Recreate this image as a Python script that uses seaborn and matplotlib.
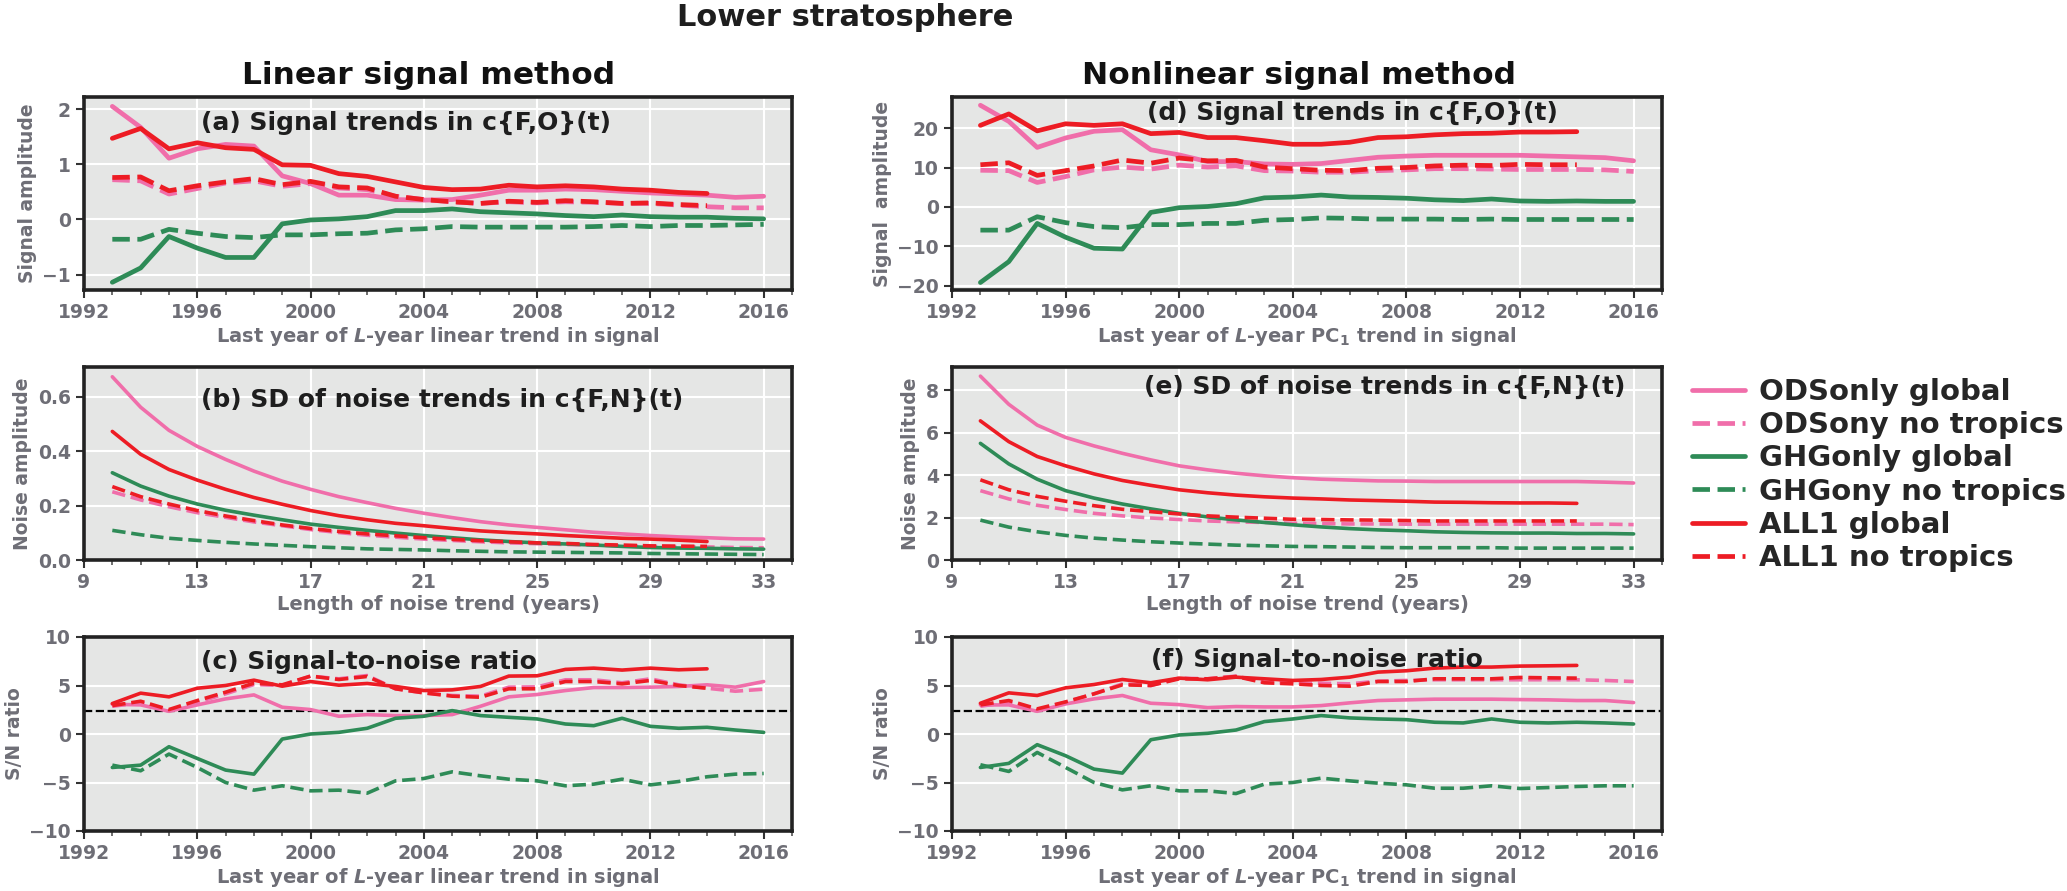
import matplotlib
matplotlib.use("Agg")
import matplotlib.pyplot as plt
import seaborn as sns
from matplotlib.ticker import MultipleLocator

# x values
years = list(range(1993, 2017))
years_all1 = list(range(1993, 2015))
lengths = list(range(10, 34))
lengths_all1 = list(range(10, 32))

series_labels = ["ODSonly global", "ODSony no tropics", "GHGonly global",
                 "GHGony no tropics", "ALL1 global", "ALL1 no tropics"]

# (a) linear signal trends
a_ods_glob = [2.05, 1.67, 1.11, 1.28, 1.36, 1.33, 0.79, 0.65, 0.44, 0.44, 0.36, 0.35,
              0.36, 0.44, 0.53, 0.53, 0.55, 0.54, 0.51, 0.48, 0.46, 0.44, 0.40, 0.42]
a_ods_notr = [0.72, 0.70, 0.46, 0.56, 0.66, 0.70, 0.60, 0.65, 0.57, 0.54, 0.42, 0.36,
              0.32, 0.29, 0.32, 0.30, 0.32, 0.31, 0.29, 0.29, 0.26, 0.23, 0.21, 0.21]
a_ghg_glob = [-1.14, -0.88, -0.31, -0.52, -0.69, -0.69, -0.08, -0.01, 0.01, 0.05, 0.16, 0.16,
              0.19, 0.14, 0.12, 0.10, 0.07, 0.05, 0.08, 0.05, 0.04, 0.04, 0.02, 0.01]
a_ghg_notr = [-0.36, -0.36, -0.18, -0.25, -0.31, -0.33, -0.28, -0.28, -0.26, -0.25, -0.19, -0.17,
              -0.13, -0.14, -0.14, -0.14, -0.14, -0.13, -0.11, -0.13, -0.11, -0.11, -0.10, -0.09]
a_all_glob = [1.47, 1.65, 1.28, 1.39, 1.30, 1.27, 0.99, 0.98, 0.83, 0.78, 0.68, 0.58,
              0.54, 0.55, 0.62, 0.59, 0.61, 0.59, 0.55, 0.53, 0.49, 0.47]
a_all_notr = [0.76, 0.77, 0.52, 0.61, 0.68, 0.74, 0.63, 0.69, 0.59, 0.57, 0.42, 0.36,
              0.32, 0.29, 0.33, 0.31, 0.34, 0.32, 0.29, 0.30, 0.27, 0.25]

# (b) SD of noise trends, linear
b_ods_glob = [0.674, 0.562, 0.477, 0.418, 0.370, 0.327, 0.290, 0.260, 0.233, 0.211, 0.190, 0.172,
              0.156, 0.141, 0.129, 0.120, 0.111, 0.102, 0.096, 0.090, 0.085, 0.082, 0.078, 0.077]
b_ods_notr = [0.251, 0.221, 0.196, 0.174, 0.157, 0.140, 0.126, 0.112, 0.101, 0.091, 0.084, 0.077,
              0.072, 0.067, 0.063, 0.060, 0.057, 0.055, 0.052, 0.050, 0.049, 0.048, 0.046, 0.045]
b_ghg_glob = [0.321, 0.272, 0.235, 0.206, 0.183, 0.165, 0.148, 0.132, 0.120, 0.109, 0.099, 0.090,
              0.082, 0.074, 0.068, 0.063, 0.059, 0.055, 0.050, 0.046, 0.044, 0.043, 0.041, 0.040]
b_ghg_notr = [0.109, 0.093, 0.080, 0.072, 0.065, 0.059, 0.054, 0.049, 0.045, 0.041, 0.039, 0.037,
              0.034, 0.032, 0.030, 0.029, 0.028, 0.027, 0.026, 0.024, 0.023, 0.022, 0.021, 0.020]
b_all_glob = [0.473, 0.389, 0.333, 0.294, 0.260, 0.230, 0.205, 0.182, 0.163, 0.148, 0.135, 0.126,
              0.116, 0.107, 0.101, 0.096, 0.090, 0.085, 0.080, 0.077, 0.073, 0.068]
b_all_notr = [0.270, 0.233, 0.206, 0.182, 0.162, 0.145, 0.129, 0.116, 0.105, 0.096, 0.089, 0.082,
              0.076, 0.071, 0.067, 0.063, 0.061, 0.057, 0.055, 0.052, 0.051, 0.050]

# (c) S/N, linear
c_ods_glob = [3.07, 3.00, 2.34, 3.00, 3.62, 4.03, 2.76, 2.52, 1.83, 2.00, 1.90, 1.90,
              2.00, 2.86, 3.83, 4.07, 4.48, 4.79, 4.79, 4.83, 4.90, 5.07, 4.83, 5.41]
c_ods_notr = [2.86, 3.21, 2.41, 3.28, 4.14, 5.10, 5.00, 5.97, 5.69, 6.03, 4.66, 4.24,
              3.97, 3.90, 4.83, 4.86, 5.59, 5.59, 5.28, 5.69, 5.07, 4.72, 4.41, 4.62]
c_ghg_glob = [-3.45, -3.21, -1.31, -2.52, -3.72, -4.14, -0.52, 0.00, 0.17, 0.59, 1.62, 1.83,
              2.41, 1.90, 1.72, 1.55, 1.03, 0.86, 1.62, 0.79, 0.59, 0.69, 0.41, 0.17]
c_ghg_notr = [-3.21, -3.79, -2.07, -3.45, -5.00, -5.79, -5.34, -5.86, -5.79, -6.10, -4.83, -4.59,
              -3.90, -4.31, -4.66, -4.83, -5.34, -5.17, -4.66, -5.24, -4.90, -4.41, -4.14, -4.07]
c_all_glob = [3.14, 4.21, 3.83, 4.72, 5.00, 5.55, 4.93, 5.41, 5.03, 5.21, 4.90, 4.48,
              4.55, 4.90, 5.97, 6.00, 6.66, 6.79, 6.59, 6.79, 6.62, 6.72]
c_all_notr = [2.93, 3.38, 2.52, 3.45, 4.31, 5.24, 5.07, 5.97, 5.62, 5.93, 4.66, 4.24,
              3.90, 3.79, 4.66, 4.66, 5.41, 5.41, 5.17, 5.52, 5.00, 4.72]

# (d) nonlinear signal trends
d_ods_glob = [25.8, 21.7, 15.1, 17.5, 19.2, 19.6, 14.5, 13.2, 11.5, 11.5, 10.9, 10.8,
              11.0, 11.8, 12.6, 12.9, 13.1, 13.1, 13.1, 13.1, 12.9, 12.7, 12.5, 11.7]
d_ods_notr = [9.3, 9.2, 6.2, 7.7, 9.4, 10.1, 9.6, 10.6, 10.1, 10.4, 9.2, 9.1,
              8.8, 8.8, 9.2, 9.4, 9.7, 9.7, 9.6, 9.5, 9.5, 9.5, 9.4, 9.0]
d_ghg_glob = [-19.2, -13.9, -4.2, -7.7, -10.5, -10.7, -1.4, -0.2, 0.1, 0.8, 2.3, 2.5,
              3.0, 2.5, 2.4, 2.2, 1.8, 1.6, 2.0, 1.5, 1.4, 1.5, 1.4, 1.4]
d_ghg_notr = [-5.9, -5.9, -2.5, -4.0, -5.0, -5.3, -4.5, -4.5, -4.2, -4.2, -3.4, -3.2,
              -2.8, -2.9, -3.1, -3.1, -3.1, -3.2, -3.1, -3.2, -3.2, -3.2, -3.2, -3.2]
d_all_glob = [20.7, 23.6, 19.3, 21.1, 20.7, 21.1, 18.6, 18.9, 17.6, 17.6, 16.8, 15.9,
              15.9, 16.4, 17.6, 17.8, 18.3, 18.6, 18.7, 19.0, 19.0, 19.1]
d_all_notr = [10.7, 11.2, 8.0, 9.2, 10.4, 11.9, 11.1, 12.4, 11.7, 11.8, 10.1, 9.7,
              9.3, 9.2, 9.8, 10.0, 10.4, 10.6, 10.5, 10.8, 10.7, 10.7]

# (e) SD of noise trends, nonlinear
e_ods_glob = [8.67, 7.34, 6.36, 5.78, 5.38, 5.03, 4.72, 4.44, 4.25, 4.09, 3.97, 3.88,
              3.81, 3.77, 3.73, 3.72, 3.70, 3.70, 3.70, 3.70, 3.70, 3.70, 3.67, 3.63]
e_ods_notr = [3.27, 2.88, 2.58, 2.38, 2.20, 2.08, 1.98, 1.91, 1.84, 1.80, 1.77, 1.73,
              1.72, 1.70, 1.70, 1.69, 1.69, 1.69, 1.69, 1.69, 1.69, 1.69, 1.69, 1.67]
e_ghg_glob = [5.50, 4.53, 3.81, 3.27, 2.92, 2.64, 2.41, 2.20, 2.03, 1.89, 1.77, 1.66,
              1.56, 1.48, 1.42, 1.38, 1.33, 1.30, 1.28, 1.27, 1.27, 1.25, 1.25, 1.23]
e_ghg_notr = [1.88, 1.55, 1.33, 1.16, 1.03, 0.94, 0.86, 0.80, 0.75, 0.70, 0.67, 0.64,
              0.63, 0.61, 0.59, 0.58, 0.58, 0.58, 0.58, 0.56, 0.56, 0.56, 0.56, 0.56]
e_all_glob = [6.56, 5.58, 4.88, 4.44, 4.06, 3.75, 3.52, 3.31, 3.17, 3.06, 2.98, 2.92,
              2.88, 2.83, 2.80, 2.77, 2.73, 2.72, 2.70, 2.69, 2.69, 2.67]
e_all_notr = [3.78, 3.31, 3.00, 2.77, 2.56, 2.39, 2.28, 2.17, 2.08, 2.02, 1.97, 1.92,
              1.91, 1.89, 1.88, 1.86, 1.84, 1.84, 1.84, 1.84, 1.84, 1.84]

# (f) S/N, nonlinear
f_ods_glob = [3.00, 3.00, 2.34, 3.10, 3.62, 3.97, 3.17, 3.03, 2.72, 2.83, 2.79, 2.79,
              2.93, 3.21, 3.45, 3.52, 3.59, 3.59, 3.59, 3.55, 3.52, 3.45, 3.45, 3.24]
f_ods_notr = [2.86, 3.28, 2.48, 3.28, 4.14, 5.17, 5.00, 5.76, 5.69, 5.97, 5.34, 5.24,
              5.24, 5.17, 5.45, 5.52, 5.59, 5.59, 5.59, 5.59, 5.59, 5.59, 5.52, 5.41]
f_ghg_glob = [-3.45, -3.03, -1.10, -2.24, -3.62, -4.03, -0.59, -0.10, 0.07, 0.41, 1.28, 1.55,
              1.90, 1.66, 1.55, 1.48, 1.21, 1.14, 1.55, 1.21, 1.14, 1.21, 1.14, 1.03]
f_ghg_notr = [-3.17, -3.86, -1.90, -3.45, -5.00, -5.76, -5.34, -5.86, -5.86, -6.14, -5.17, -5.00,
              -4.55, -4.83, -5.07, -5.24, -5.59, -5.59, -5.34, -5.62, -5.52, -5.41, -5.34, -5.34]
f_all_glob = [3.17, 4.24, 3.97, 4.76, 5.10, 5.62, 5.28, 5.76, 5.59, 5.86, 5.69, 5.52,
              5.62, 5.86, 6.38, 6.52, 6.79, 6.90, 6.90, 7.00, 7.03, 7.07]
f_all_notr = [3.00, 3.45, 2.59, 3.31, 4.14, 5.07, 5.00, 5.69, 5.69, 5.93, 5.28, 5.17,
              5.00, 4.93, 5.41, 5.41, 5.69, 5.69, 5.69, 5.83, 5.79, 5.76]

sn_threshold = 2.33

pink, green, red = "#f06eaa", "#2e8b57", "#ed1c24"
tick_grey = "#6e6e76"

sns.set_style("darkgrid", {"axes.facecolor": "#e5e6e5", "grid.color": "white",
                           "axes.edgecolor": "#222222"})
plt.rcParams["font.family"] = ["DejaVu Sans"]
plt.rcParams["font.weight"] = "bold"
plt.rcParams["mathtext.fontset"] = "custom"
plt.rcParams["mathtext.rm"] = "DejaVu Sans:bold"
plt.rcParams["mathtext.it"] = "DejaVu Sans:italic:bold"
plt.rcParams["mathtext.bf"] = "DejaVu Sans:bold"

W, H = 2067, 891
fig = plt.figure(figsize=(W / 100, H / 100), dpi=100)


def box(x0, y0, x1, y1):
    return [x0 / W, 1 - y1 / H, (x1 - x0) / W, (y1 - y0) / H]


ax_a = fig.add_axes(box(84, 97, 792, 290))
ax_b = fig.add_axes(box(84, 367, 792, 560))
ax_c = fig.add_axes(box(84, 637, 792, 831))
ax_d = fig.add_axes(box(952, 97, 1662, 290))
ax_e = fig.add_axes(box(952, 367, 1662, 560))
ax_f = fig.add_axes(box(952, 637, 1662, 831))


def draw(ax, x_full, x_all, vals, lw):
    styles = [(pink, "-"), (pink, "--"), (green, "-"), (green, "--"), (red, "-"), (red, "--")]
    for i, (v, (col, ls)) in enumerate(zip(vals, styles)):
        xs = x_all if i >= 4 else x_full
        sns.lineplot(x=xs, y=v, ax=ax, color=col, linestyle=ls, lw=lw,
                     label=series_labels[i], legend=False)


draw(ax_a, years, years_all1, [a_ods_glob, a_ods_notr, a_ghg_glob, a_ghg_notr, a_all_glob, a_all_notr], 3.4)
draw(ax_b, lengths, lengths_all1, [b_ods_glob, b_ods_notr, b_ghg_glob, b_ghg_notr, b_all_glob, b_all_notr], 2.6)
draw(ax_c, years, years_all1, [c_ods_glob, c_ods_notr, c_ghg_glob, c_ghg_notr, c_all_glob, c_all_notr], 2.6)
draw(ax_d, years, years_all1, [d_ods_glob, d_ods_notr, d_ghg_glob, d_ghg_notr, d_all_glob, d_all_notr], 3.4)
draw(ax_e, lengths, lengths_all1, [e_ods_glob, e_ods_notr, e_ghg_glob, e_ghg_notr, e_all_glob, e_all_notr], 2.6)
draw(ax_f, years, years_all1, [f_ods_glob, f_ods_notr, f_ghg_glob, f_ghg_notr, f_all_glob, f_all_notr], 2.6)

for ax in (ax_c, ax_f):
    ax.axhline(sn_threshold, color="black", ls="--", lw=1.6, zorder=1)

xl_lin = r"Last year of $L$-year linear trend in signal"
xl_pc = r"Last year of $L$-year PC$_1$ trend in signal"
xl_noise = "Length of noise trend (years)"

setup = [
    (ax_a, (1992, 2017), (-1.28, 2.22), [-1, 0, 1, 2], xl_lin, "Signal amplitude",
     "(a) Signal trends in c{F,O}(t)", 0.165, 0.865),
    (ax_b, (9, 34), (0, 0.71), [0.0, 0.2, 0.4, 0.6], xl_noise, "Noise amplitude",
     "(b) SD of noise trends in c{F,N}(t)", 0.165, 0.83),
    (ax_c, (1992, 2017), (-10, 10), [-10, -5, 0, 5, 10], xl_lin, "S/N ratio",
     "(c) Signal-to-noise ratio", 0.165, 0.87),
    (ax_d, (1992, 2017), (-21.1, 27.9), [-20, -10, 0, 10, 20], xl_pc, "Signal  amplitude",
     "(d) Signal trends in c{F,O}(t)", 0.275, 0.915),
    (ax_e, (9, 34), (0, 9.1), [0, 2, 4, 6, 8], xl_noise, "Noise amplitude",
     "(e) SD of noise trends in c{F,N}(t)", 0.27, 0.895),
    (ax_f, (1992, 2017), (-10, 10), [-10, -5, 0, 5, 10], xl_pc, "S/N ratio",
     "(f) Signal-to-noise ratio", 0.28, 0.88),
]

for ax, xlim, ylim, yt, xl, yl, ttl, tx, ty in setup:
    ax.set_xlim(*xlim)
    ax.set_ylim(*ylim)
    ax.set_yticks(yt)
    if xlim[0] == 1992:
        ax.xaxis.set_major_locator(MultipleLocator(4))
    else:
        ax.set_xticks([9, 13, 17, 21, 25, 29, 33])
    ax.xaxis.set_minor_locator(MultipleLocator(1))
    if ax is ax_b:
        ax.set_yticklabels(["0.0", "0.2", "0.4", "0.6"])
    ax.tick_params(axis="both", which="major", direction="out", length=6, width=1.5,
                   color="#333333", labelsize=13.5, labelcolor=tick_grey, bottom=True, left=True)
    ax.tick_params(axis="x", which="minor", direction="out", length=3.5, width=1.2,
                   color="#555555", bottom=True)
    for lab in ax.get_xticklabels() + ax.get_yticklabels():
        lab.set_fontweight("bold")
    ax.grid(True, which="major", color="white", lw=1.5)
    ax.grid(False, which="minor")
    for sp in ax.spines.values():
        sp.set_visible(True)
        sp.set_linewidth(2.6)
        sp.set_color("#222222")
    ax.set_xlabel(xl, fontsize=14, color=tick_grey, fontweight="bold", labelpad=2)
    ax.set_ylabel(yl, fontsize=13.5, color=tick_grey, fontweight="bold", labelpad=4)
    ax.text(tx, ty, ttl, transform=ax.transAxes, fontsize=18, fontweight="bold",
            color="#1e1e1e", ha="left", va="center")

fig.text(429 / W, 1 - 75 / H, "Linear signal method", fontsize=22.5, fontweight="bold",
         ha="center", va="center", color="#111111")
fig.text(1299 / W, 1 - 75 / H, "Nonlinear signal method", fontsize=22.5, fontweight="bold",
         ha="center", va="center", color="#111111")
fig.text(845 / W, 1 - 18 / H, "Lower stratosphere", fontsize=22, fontweight="bold",
         ha="center", va="center", color="#1e1e1e")

handles, labels = ax_a.get_legend_handles_labels()
fig.legend(handles, labels, loc="center left", bbox_to_anchor=(1692 / W, 1 - 475 / H),
           frameon=False, fontsize=21, handlelength=1.8, handletextpad=0.5,
           labelspacing=0.18, borderpad=0, borderaxespad=0)

fig.savefig("out.png", dpi=100)
